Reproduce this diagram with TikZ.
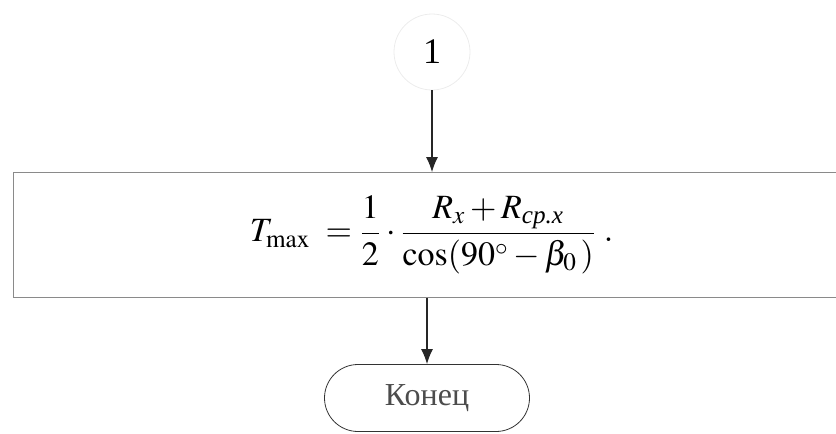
\documentclass[tikz,border=0pt]{standalone}
\usepackage{amsmath}
\usepackage{mathptmx}
\usepackage{fontspec}
\setmainfont{Liberation Serif}
\usetikzlibrary{arrows.meta,positioning,shapes.misc}
\definecolor{fcline}{HTML}{8A8A8A}
\definecolor{fcfaint}{HTML}{ECECEC}

\begin{document}
\begin{tikzpicture}[x=0.5pt,y=-0.5pt,
 connbox/.style={draw=fcfaint,circle,minimum size=38pt,inner sep=0pt,font=\fontsize{18}{20}\selectfont},
 formulabox/.style={draw=fcline,rectangle,minimum width=418.5pt,minimum height=62.5pt,inner sep=0pt,font=\fontsize{17}{20}\selectfont},
 endbox/.style={draw=black!80,rounded rectangle,minimum width=102.5pt,minimum height=33.5pt,inner sep=0pt,font=\fontsize{16}{18}\selectfont,text=black!70},
 flowarrow/.style={-{Latex[length=7.5pt,width=6pt]},semithick,draw=black!85}
]
\useasboundingbox (0,0) rectangle (836,434);
\clip (0,0) rectangle (836,434);
\node[connbox] (conn) at (432,52) {1};
\node[formulabox] (formula) at (431.5,235)
  {$T_{\max}\;=\dfrac{1}{2}\cdot\dfrac{R_x+R_{\text{\itshape ср.х}}}{\cos(90^\circ-\beta_0\,)}\;.$};
\node[endbox] (finish) at (427,398) {Конец};
\draw[flowarrow] (conn.south) -- (conn.south |- formula.north);
\draw[flowarrow] (formula.south -| finish.north) -- (finish.north);
\end{tikzpicture}
\end{document}
